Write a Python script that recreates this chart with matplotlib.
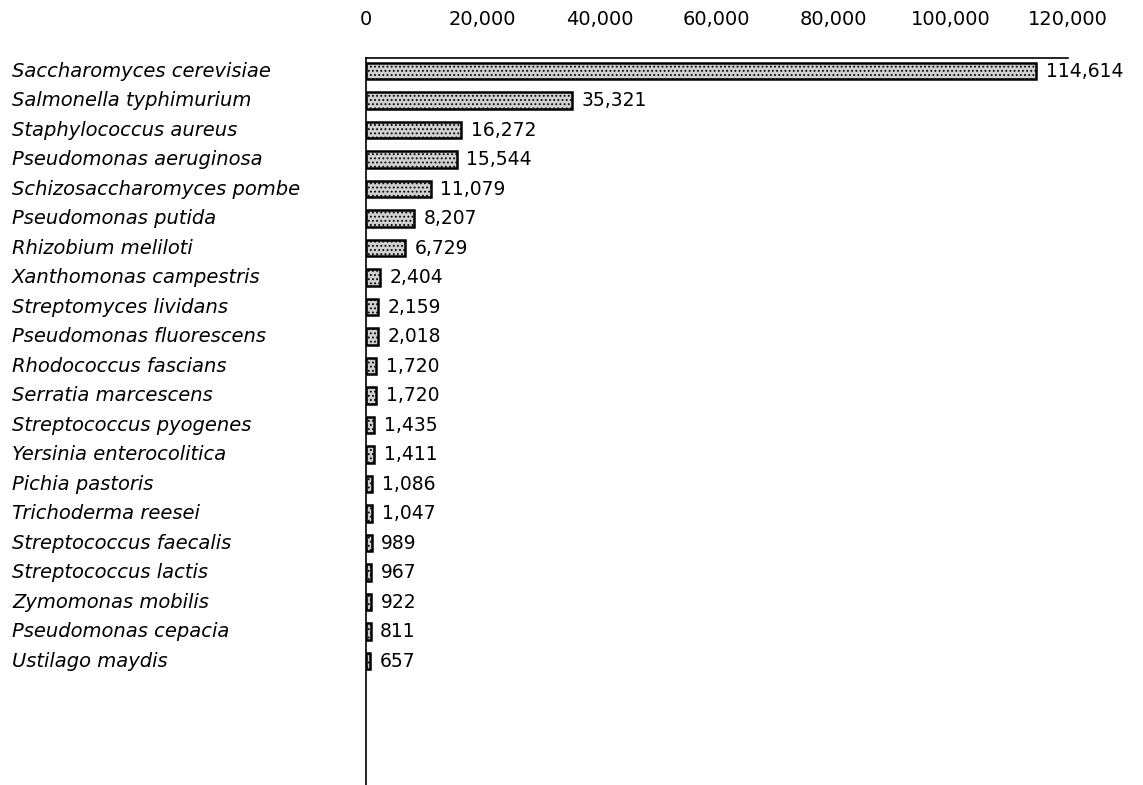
import matplotlib
matplotlib.use("Agg")
import matplotlib.pyplot as plt

# species and number of records per species
especies = [
    "Saccharomyces cerevisiae", "Salmonella typhimurium", "Staphylococcus aureus",
    "Pseudomonas aeruginosa", "Schizosaccharomyces pombe", "Pseudomonas putida",
    "Rhizobium meliloti", "Xanthomonas campestris", "Streptomyces lividans",
    "Pseudomonas fluorescens", "Rhodococcus fascians", "Serratia marcescens",
    "Streptococcus pyogenes", "Yersinia enterocolitica", "Pichia pastoris",
    "Trichoderma reesei", "Streptococcus faecalis", "Streptococcus lactis",
    "Zymomonas mobilis", "Pseudomonas cepacia", "Ustilago maydis",
]
valores = [114614, 35321, 16272, 15544, 11079, 8207, 6729, 2404, 2159, 2018,
           1720, 1720, 1435, 1411, 1086, 1047, 989, 967, 922, 811, 657]
ticks = [0, 20000, 40000, 60000, 80000, 100000, 120000]

plt.rcParams["hatch.color"] = "#7a7a7a"
plt.rcParams["hatch.linewidth"] = 0.8

fig = plt.figure(figsize=(11.43, 7.85), dpi=100)
ax = fig.add_axes([0.320, 0.0, 0.614, 0.926])

pos = list(range(len(especies)))
ax.barh(pos, valores, height=0.56, color="#cfcfcf", edgecolor="black",
        linewidth=1.8, hatch="....")

for y, v in zip(pos, valores):
    ax.annotate(f"{v:,}", (v, y), xytext=(7, 0), textcoords="offset points",
                va="center", ha="left", fontsize=13.5, family="DejaVu Sans")

ax.set_xlim(0, 120000)
ax.set_ylim(24.2, -0.44)
ax.xaxis.tick_top()
ax.set_xticks(ticks)
ax.set_xticklabels([f"{t:,}" for t in ticks], fontsize=14,
                   family="DejaVu Sans")
ax.tick_params(axis="x", length=0, pad=21)
ax.set_yticks(pos)
ax.set_yticklabels([])
ax.tick_params(axis="y", length=0)

# species names left-aligned at the left edge of the figure
for i, nombre in enumerate(especies):
    ax.text(-0.504, i, nombre, transform=ax.get_yaxis_transform(),
            ha="left", va="center", fontsize=14, style="italic",
            family="DejaVu Sans")

ax.spines["right"].set_visible(False)
ax.spines["bottom"].set_visible(False)
ax.spines["top"].set_linewidth(1.2)
ax.spines["left"].set_linewidth(1.2)

fig.savefig("out.png", dpi=100, facecolor="white")
